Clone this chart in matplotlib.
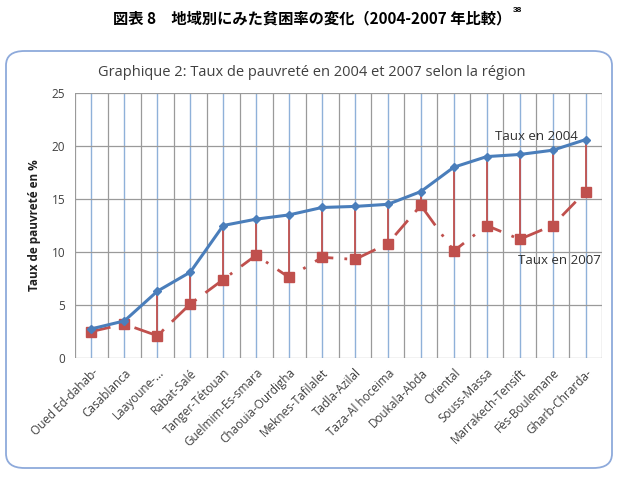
import matplotlib.pyplot as plt
from matplotlib.patches import FancyBboxPatch
import numpy as np

regions = ["Oued Ed-dahab-", "Casablanca", "Laayoune-...", "Rabat-Salé",
           "Tanger-Tétouan", "Guelmim-Es-smara", "Chaouia-Ourdigha",
           "Meknes-Tafilalet", "Tadla-Azilal", "Taza-Al hoceima",
           "Doukala-Abda", "Oriental", "Souss-Massa", "Marrakech-Tensift",
           "Fès-Boulemane", "Gharb-Chrarda-"]
taux_2004 = [2.75, 3.5, 6.3, 8.1, 12.5, 13.1, 13.5, 14.2,
             14.3, 14.5, 15.7, 18.0, 19.0, 19.2, 19.6, 20.6]
taux_2007 = [2.5, 3.2, 2.1, 5.1, 7.4, 9.7, 7.6, 9.5,
             9.3, 10.8, 14.4, 10.1, 12.5, 11.2, 12.5, 15.7]
y_ticks = [0, 5, 10, 15, 20, 25]

blue = "#4a7ebb"
red = "#c0504d"
grid_gray = "#9a9a9a"
txt = "#404040"

fig = plt.figure(figsize=(6.18, 4.78), dpi=100)

# cadre arrondi autour du graphique
frame = FancyBboxPatch((6 / 618, 10 / 478), 606 / 618, 417 / 478,
                       boxstyle="round,pad=0,rounding_size=0.03",
                       transform=fig.transFigure, facecolor="white",
                       edgecolor="#8eaadb", linewidth=1.3, zorder=-5)
fig.patches.append(frame)

title = fig.text(0.505, 0.962, "図表 8　地域別にみた貧困率の変化（2004-2007 年比較）",
                 ha="center", va="center", fontsize=11, fontweight="bold",
                 family=["Noto Sans CJK JP", "DejaVu Sans"])
fig.text(0.505, 0.849, "Graphique 2: Taux de pauvreté en 2004 et 2007 selon la région",
         ha="center", va="center", fontsize=10.5, color=txt, family="Open Sans")

ax = fig.add_axes([75 / 618, 120 / 478, 527 / 618, 265 / 478])
x = np.arange(len(regions))

# grille : lignes bleues aux catégories, grises aux limites
for xi in x:
    ax.axvline(xi, color="#8fb1d9", linewidth=1.0, zorder=1)
for xb in np.arange(-0.5, len(regions), 1.0):
    ax.axvline(xb, color=grid_gray, linewidth=0.9, zorder=1)
for yt in y_ticks:
    ax.axhline(yt, color=grid_gray, linewidth=0.9, zorder=1)

ax.vlines(x, taux_2007, taux_2004, color=red, linewidth=1.3, zorder=2)
ax.plot(x, taux_2007, color=red, linestyle=(0, (7, 4, 1, 4)), linewidth=2,
        marker="s", markersize=7.5, zorder=3)
ax.plot(x, taux_2004, color=blue, linewidth=2.2, marker="D",
        markersize=4.5, zorder=4)

ax.text(14.75, 20.9, "Taux en 2004", ha="right", va="center", fontsize=9.5,
        color="#303030", family="Open Sans")
ax.text(12.95, 9.2, "Taux en 2007", ha="left", va="center", fontsize=9.5,
        color="#303030", family="Open Sans")

ax.set_xlim(-0.5, len(regions) - 0.5)
ax.set_ylim(0, 25)
ax.set_yticks(y_ticks)
ax.set_xticks(x)
ax.set_xticklabels(regions, rotation=45, ha="right", rotation_mode="anchor",
                   fontsize=8.5, color=txt, family="Open Sans")
ax.tick_params(axis="x", length=0, pad=6)
ax.tick_params(axis="y", length=0, pad=7, labelsize=8.5, labelcolor=txt)
for lab in ax.get_yticklabels():
    lab.set_family("Open Sans")
for s in ax.spines.values():
    s.set_visible(False)
ax.set_ylabel("Taux de pauvreté en %", fontsize=8.5, fontweight="bold",
              color="#202020", family="Open Sans", labelpad=8)

# exposant collé à la fin du titre
fig.canvas.draw()
bb = title.get_window_extent().transformed(fig.transFigure.inverted())
fig.text(bb.x1 + 0.002, 0.978, "38", ha="left", va="center", fontsize=6,
         fontweight="bold", family="Liberation Sans")

fig.savefig("out.png", dpi=100)
